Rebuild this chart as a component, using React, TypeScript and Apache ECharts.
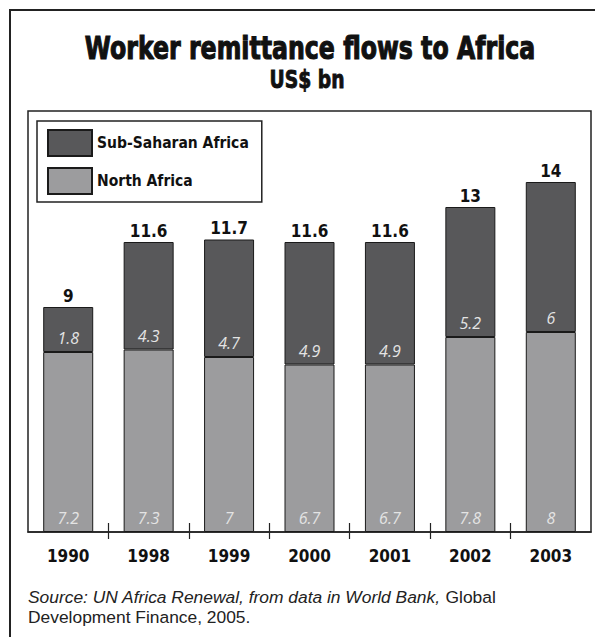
import React, { useEffect, useRef } from "react";
import * as echarts from "echarts";

const years = ["1990", "1998", "1999", "2000", "2001", "2002", "2003"];
const northAfrica = [7.2, 7.3, 7, 6.7, 6.7, 7.8, 8];
const subSaharan = [1.8, 4.3, 4.7, 4.9, 4.9, 5.2, 6];
const tickPositions = [1, 2, 3, 4, 5, 6];
const seriesNames = ["Sub-Saharan Africa", "North Africa"];
const titleText = "Worker remittance flows to Africa";
const subtitleText = "US$ bn";
const sourceLine1Italic = "Source: UN Africa Renewal, from data in World Bank,";
const sourceLine1Plain = " Global";
const sourceLine2 = "Development Finance, 2005.";

const NARROW = "'DejaVu Sans Condensed', 'Liberation Sans Narrow', sans-serif";
const HEAVY = "'DejaVu Sans', sans-serif";

export default function App() {
  const ref = useRef<HTMLDivElement>(null);
  useEffect(() => {
    const chart = echarts.init(ref.current!, null, { renderer: "svg" });
    const totals = northAfrica.map((v, i) => Math.round((v + subSaharan[i]) * 10) / 10);
    const segLabel = {
      show: true,
      position: "insideBottom",
      distance: 6,
      color: "#e4e4e4",
      fontStyle: "italic",
      fontFamily: "'Open Sans', sans-serif",
      fontSize: 16,
    };
    chart.setOption({
      animation: false,
      grid: {
        left: 28,
        right: 4,
        top: 111,
        bottom: 105,
        show: true,
        borderColor: "#222",
        borderWidth: 1.5,
        backgroundColor: "transparent",
      },
      legend: {
        data: seriesNames,
        orient: "vertical",
        left: 37,
        top: 121,
        itemWidth: 44,
        itemHeight: 26,
        itemGap: 10,
        padding: [8, 13, 7, 10],
        borderColor: "#222",
        borderWidth: 1.5,
        icon: "rect",
        selectedMode: false,
        textStyle: { fontFamily: NARROW, fontWeight: "bold", fontSize: 15.5, color: "#111" },
      },
      xAxis: [
        {
          type: "category",
          data: years,
          boundaryGap: true,
          axisLine: { show: true, lineStyle: { color: "#222", width: 1.5 } },
          axisTick: { show: false },
          axisLabel: { color: "#111", fontFamily: NARROW, fontWeight: "bold", fontSize: 17, margin: 15 },
        },
        {
          type: "value",
          min: 0,
          max: 7,
          position: "bottom",
          offset: 7,
          axisLine: { show: false },
          axisLabel: { show: false },
          splitLine: { show: false },
          axisTick: {
            show: true,
            inside: true,
            length: 16,
            customValues: tickPositions,
            lineStyle: { color: "#222", width: 1.2 },
          },
        },
      ],
      yAxis: { type: "value", min: 0, max: 16.84, show: false },
      series: [
        {
          name: seriesNames[1],
          type: "bar",
          stack: "t",
          data: northAfrica,
          barWidth: 50,
          itemStyle: { color: "#9c9c9e", borderColor: "#1a1a1a", borderWidth: 1 },
          label: segLabel,
        },
        {
          name: seriesNames[0],
          type: "bar",
          stack: "t",
          data: subSaharan,
          barWidth: 50,
          itemStyle: { color: "#58585a", borderColor: "#1a1a1a", borderWidth: 1 },
          label: segLabel,
        },
        {
          name: "total",
          type: "bar",
          stack: "t",
          data: years.map(() => 0),
          barWidth: 50,
          silent: true,
          itemStyle: { color: "transparent", borderWidth: 0 },
          label: {
            show: true,
            position: "top",
            distance: 3,
            formatter: (p: any) => String(totals[p.dataIndex]),
            color: "#111",
            fontFamily: NARROW,
            fontWeight: "bold",
            fontSize: 17,
          },
        },
      ],
      graphic: [
        {
          type: "rect",
          silent: true,
          shape: { x: 10, y: 10, width: 640, height: 680 },
          style: { fill: "none", stroke: "#222", lineWidth: 2 },
        },
        {
          type: "text",
          x: 310,
          y: 48,
          scaleX: 0.74,
          style: {
            text: titleText,
            fill: "#111",
            stroke: "#111",
            lineWidth: 1.2,
            fontFamily: HEAVY,
            fontWeight: "bold",
            fontSize: 32,
            align: "center",
            verticalAlign: "middle",
          },
        },
        {
          type: "text",
          x: 307,
          y: 80,
          scaleX: 0.78,
          style: {
            text: subtitleText,
            fill: "#111",
            stroke: "#111",
            lineWidth: 0.9,
            fontFamily: HEAVY,
            fontWeight: "bold",
            fontSize: 24,
            align: "center",
            verticalAlign: "middle",
          },
        },
        {
          type: "text",
          x: 28,
          y: 587,
          style: {
            text: "{i|" + sourceLine1Italic + "}{n|" + sourceLine1Plain + "}\n{n|" + sourceLine2 + "}",
            fill: "#222",
            fontFamily: "'Liberation Sans', sans-serif",
            fontSize: 17.4,
            lineHeight: 20,
            rich: {
              i: { fontStyle: "italic", fontFamily: "'Liberation Sans', sans-serif", fontSize: 17.4, lineHeight: 20, fill: "#222" },
              n: { fontFamily: "'Liberation Sans', sans-serif", fontSize: 17.4, lineHeight: 20, fill: "#222" },
            },
          },
        },
      ],
    });
    return () => chart.dispose();
  }, []);
  return (
    <div
      ref={ref}
      style={{ position: "fixed", left: 0, top: 0, width: 595, height: 637, background: "#fff" }}
    />
  );
}
